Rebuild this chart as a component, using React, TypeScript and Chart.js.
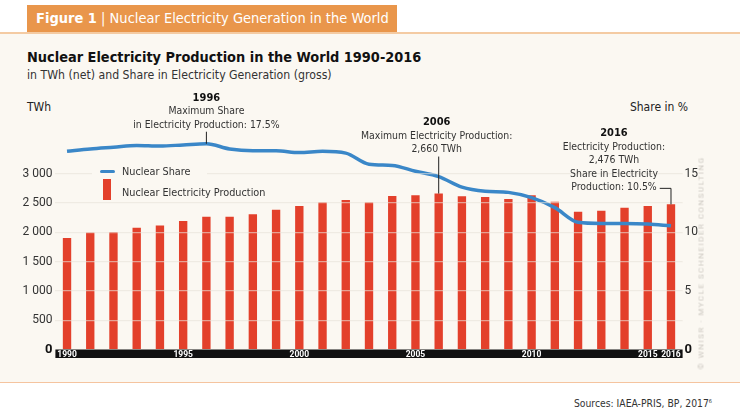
import { useEffect, useRef } from 'react'
import { Chart, registerables } from 'chart.js'

Chart.register(...registerables)

const NARROW = "'Liberation Sans Narrow', 'DejaVu Sans Condensed', Roboto, sans-serif"
const PLAIN = "Roboto, 'DejaVu Sans', sans-serif"

const years = [
  '1990', '1991', '1992', '1993', '1994', '1995', '1996', '1997', '1998', '1999',
  '2000', '2001', '2002', '2003', '2004', '2005', '2006', '2007', '2008', '2009',
  '2010', '2011', '2012', '2013', '2014', '2015', '2016',
]
// TWh (net)
const production = [
  1901, 1995, 2003, 2077, 2115, 2193, 2266, 2266, 2306, 2385,
  2447, 2513, 2552, 2510, 2620, 2632, 2660, 2612, 2602, 2568,
  2630, 2522, 2350, 2366, 2418, 2446, 2476,
]
// share in %
const share = [
  16.9, 17.1, 17.25, 17.4, 17.35, 17.45, 17.55, 17.1, 16.95, 16.95,
  16.8, 16.9, 16.75, 15.8, 15.7, 15.2, 14.75, 13.85, 13.5, 13.4,
  12.95, 12.1, 10.85, 10.75, 10.75, 10.7, 10.55,
]
const shownYears = ['1990', '1995', '2000', '2005', '2010', '2015', '2016']
const leftTicks = [0, 500, 1000, 1500, 2000, 2500, 3000]
const rightTicks = [0, 5, 10, 15]

const RED = '#e3402b'
const BLUE = '#3a87c8'
const CREAM = '#fbf8f2'

function fmt(v: number) {
  return v >= 1000 ? `${Math.floor(v / 1000)} ${String(v % 1000).padStart(3, '0')}` : String(v)
}

// zero labels are bold and darker in the original
const tickFont = (c: any) => (c.tick && c.tick.value === 0
  ? { family: PLAIN, size: 13, weight: 'bold' }
  : { family: PLAIN, size: 12 })
const tickColor = (c: any) => (c.tick && c.tick.value === 0 ? '#111' : '#333')

const decor = {
  id: 'decor',
  beforeDraw(chart: any) {
    const { ctx, chartArea } = chart
    ctx.save()
    ctx.fillStyle = '#111'
    ctx.fillRect(chartArea.left, chartArea.bottom, chartArea.right - chartArea.left, 8.5)
    ctx.restore()
  },
  afterDraw(chart: any) {
    const { ctx } = chart
    const x = chart.scales.x
    const y = chart.scales.y
    const y1 = chart.scales.y1

    const block = (cx: number, top: number, head: string, lines: string[], step: number) => {
      ctx.textAlign = 'center'
      ctx.textBaseline = 'middle'
      ctx.fillStyle = '#111'
      ctx.font = `bold 11px ${NARROW}`
      ctx.fillText(head, cx, top)
      ctx.fillStyle = '#333'
      ctx.font = `10.4px ${NARROW}`
      lines.forEach((l, i) => ctx.fillText(l, cx, top + step * (i + 1)))
    }

    ctx.save()
    ctx.strokeStyle = '#222'
    ctx.lineWidth = 1

    // 1996 max share
    const i96 = years.indexOf('1996')
    const ax = x.getPixelForValue(i96)
    const ay = y1.getPixelForValue(share[i96])
    block(ax, ay - 46, '1996', ['Maximum Share', 'in Electricity Production: 17.5%'], 14)
    ctx.beginPath()
    ctx.moveTo(ax, ay - 12)
    ctx.lineTo(ax, ay)
    ctx.stroke()

    // 2006 max production
    const i06 = years.indexOf('2006')
    const bx = x.getPixelForValue(i06)
    const by = y.getPixelForValue(production[i06])
    block(bx - 2, by - 71, '2006', ['Maximum Electricity Production:', '2,660 TWh'], 13.5)
    ctx.beginPath()
    ctx.moveTo(bx, by - 37)
    ctx.lineTo(bx, by)
    ctx.stroke()

    // 2016
    const i16 = years.indexOf('2016')
    const cx = x.getPixelForValue(i16)
    const cy = y.getPixelForValue(production[i16])
    const tx = cx - 57
    block(tx, cy - 71, '2016', ['Electricity Production:', '2,476 TWh', 'Share in Electricity', 'Production: 10.5%'], 13.5)
    ctx.font = `10.4px ${NARROW}`
    const w = ctx.measureText('Production: 10.5%').width
    ctx.beginPath()
    ctx.moveTo(tx + w / 2 + 3, cy - 16)
    ctx.lineTo(cx, cy - 16)
    ctx.lineTo(cx, cy)
    ctx.stroke()
    ctx.restore()
  },
}

function ProductionChart() {
  const canvasRef = useRef<HTMLCanvasElement>(null)
  const chartRef = useRef<any>(null)

  useEffect(() => {
    if (!canvasRef.current) return
    if (chartRef.current) chartRef.current.destroy()

    chartRef.current = new Chart(canvasRef.current, {
      type: 'bar',
      data: {
        labels: years,
        datasets: [
          {
            type: 'line',
            label: 'Nuclear Share',
            data: share,
            yAxisID: 'y1',
            borderColor: BLUE,
            borderWidth: 3.5,
            pointRadius: 0,
            tension: 0.4,
            cubicInterpolationMode: 'monotone',
            order: 1,
          } as any,
          {
            label: 'Nuclear Electricity Production',
            data: production,
            yAxisID: 'y',
            backgroundColor: RED,
            barPercentage: 0.36,
            categoryPercentage: 1,
            order: 2,
          },
        ],
      },
      options: {
        animation: false,
        responsive: true,
        maintainAspectRatio: false,
        layout: { padding: { top: 30, bottom: 7, left: 0, right: 0 } },
        plugins: { legend: { display: false }, tooltip: { enabled: false } },
        scales: {
          x: {
            afterFit: (s: any) => { s.height = 8.5 },
            grid: { display: false, drawTicks: false },
            border: { display: false },
            ticks: {
              color: '#fff',
              font: { family: PLAIN, size: 8.5, weight: 'bold' },
              padding: 0,
              autoSkip: false,
              maxRotation: 0,
              callback: (_v: any, i: number) => (shownYears.includes(years[i]) ? years[i] : ''),
            },
          },
          y: {
            position: 'left',
            min: 0,
            max: 4000,
            afterFit: (s: any) => { s.width = 55.4 },
            afterBuildTicks: (s: any) => { s.ticks = leftTicks.map(v => ({ value: v })) },
            border: { display: false },
            grid: {
              drawTicks: false,
              z: 1,
              lineWidth: 1.2,
              color: (c: any) => (c.tick && c.tick.value === 0 ? 'transparent' : 'rgba(232,226,216,0.6)'),
            },
            ticks: {
              padding: 3,
              color: tickColor,
              font: tickFont,
              callback: (v: any) => fmt(Number(v)),
            },
          },
          y1: {
            position: 'right',
            min: 0,
            max: 20,
            afterFit: (s: any) => { s.width = 57.4 },
            afterBuildTicks: (s: any) => { s.ticks = rightTicks.map(v => ({ value: v })) },
            border: { display: false },
            grid: { display: false, drawTicks: false },
            ticks: {
              padding: 2,
              color: tickColor,
              font: tickFont,
            },
          },
        },
      },
      plugins: [decor],
    })

    return () => {
      if (chartRef.current) chartRef.current.destroy()
      chartRef.current = null
    }
  }, [])

  return (
    <div style={{ position: 'absolute', left: 0, top: 85, width: 740, height: 280 }}>
      <canvas ref={canvasRef} />
    </div>
  )
}

export default function App() {
  return (
    <div style={{ position: 'relative', width: 740, height: 412, background: '#fff', overflow: 'hidden', fontFamily: NARROW }}>
      <style>{'body{margin:0}'}</style>
      <div style={{ position: 'absolute', left: 0, top: 32, width: 740, height: 348, background: CREAM, borderTop: '2px solid #f4cba3', borderBottom: '1.5px solid #f5c49f' }} />
      <div style={{ position: 'absolute', left: 27, top: 5, width: 370, height: 27, background: '#e9964b', color: '#fff', fontSize: 14.5, lineHeight: '27px', paddingLeft: 9, boxSizing: 'border-box', whiteSpace: 'nowrap' }}>
        <b>Figure 1</b> | Nuclear Electricity Generation in the World
      </div>
      <div style={{ position: 'absolute', left: 27, top: 49, fontSize: 14.4, fontWeight: 'bold', color: '#111', whiteSpace: 'nowrap' }}>
        Nuclear Electricity Production in the World 1990-2016
      </div>
      <div style={{ position: 'absolute', left: 27, top: 68, fontSize: 12.2, color: '#333', whiteSpace: 'nowrap' }}>
        in TWh (net) and Share in Electricity Generation (gross)
      </div>
      <div style={{ position: 'absolute', left: 27, top: 100, fontSize: 12, color: '#222' }}>TWh</div>
      <div style={{ position: 'absolute', right: 52, top: 100, fontSize: 12, color: '#222', whiteSpace: 'nowrap' }}>Share in %</div>
      <ProductionChart />
      <div style={{ position: 'absolute', left: 92, top: 165, width: 115, height: 16, background: CREAM }} />
      <div style={{ position: 'absolute', left: 100, top: 169.5, width: 15, height: 3.5, background: BLUE, borderRadius: 2 }} />
      <div style={{ position: 'absolute', left: 122, top: 165, fontSize: 10.8, color: '#333', whiteSpace: 'nowrap' }}>Nuclear Share</div>
      <div style={{ position: 'absolute', left: 103, top: 179, width: 8, height: 21, background: RED }} />
      <div style={{ position: 'absolute', left: 122, top: 186, fontSize: 10.8, color: '#333', whiteSpace: 'nowrap' }}>Nuclear Electricity Production</div>
      <div style={{ position: 'absolute', left: 701, top: 263, transform: 'translate(-50%, -50%) rotate(-90deg)', fontFamily: PLAIN, fontSize: 8, letterSpacing: 1.5, color: '#cdc9c2', whiteSpace: 'nowrap' }}>
        © WNISR · MYCLE SCHNEIDER CONSULTING
      </div>
      <div style={{ position: 'absolute', right: 28, top: 397, fontSize: 10.3, color: '#333', whiteSpace: 'nowrap' }}>
        Sources: IAEA-PRIS, BP, 2017<sup style={{ fontSize: 5.5 }}>6</sup>
      </div>
    </div>
  )
}
